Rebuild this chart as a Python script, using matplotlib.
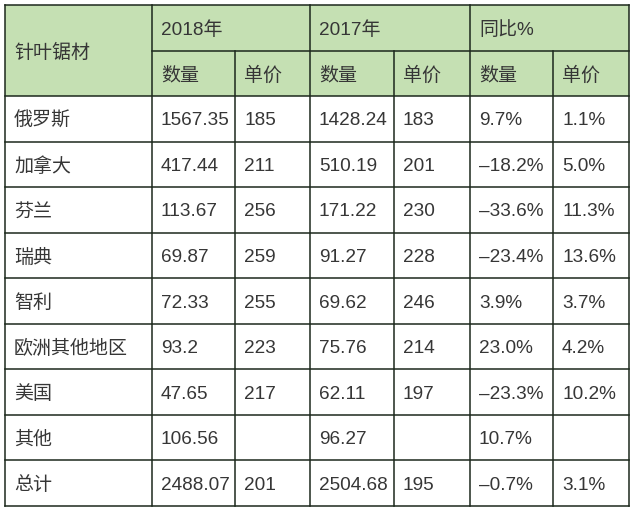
import matplotlib
matplotlib.use("Agg")
import matplotlib.pyplot as plt
from matplotlib.patches import Rectangle

plt.rcParams['font.family'] = ['Liberation Sans', 'Noto Sans CJK SC', 'DejaVu Sans']

# ---- data ----
corner_label = "针叶锯材"
year_headers = ["2018年", "2017年", "同比%"]
sub_headers = ["数量", "单价", "数量", "单价", "数量", "单价"]
regions = ["俄罗斯", "加拿大", "芬兰", "瑞典", "智利", "欧洲其他地区", "美国", "其他", "总计"]
qty_2018 = ["1567.35", "417.44", "113.67", "69.87", "72.33", "93.2", "47.65", "106.56", "2488.07"]
price_2018 = ["185", "211", "256", "259", "255", "223", "217", "", "201"]
qty_2017 = ["1428.24", "510.19", "171.22", "91.27", "69.62", "75.76", "62.11", "96.27", "2504.68"]
price_2017 = ["183", "201", "230", "228", "246", "214", "197", "", "195"]
qty_yoy = ["9.7%", "–18.2%", "–33.6%", "–23.4%", "3.9%", "23.0%", "–23.3%", "10.7%", "–0.7%"]
price_yoy = ["1.1%", "5.0%", "11.3%", "13.6%", "3.7%", "4.2%", "10.2%", "", "3.1%"]

# ---- layout ----
W, H = 636, 512
col_x = [5, 152, 235, 310, 394, 470, 553, 629]
head_top, head_mid, head_bot = 5, 51, 96
row_h = (506 - head_bot) / len(regions)
header_fill = "#c5e0b3"
line_color = "#1c281c"
text_color = "#363636"
fs = 13.7
pad = 9
lw = 1.1

fig = plt.figure(figsize=(W / 100, H / 100), dpi=100)
ax = fig.add_axes([0, 0, 1, 1])
ax.set_xlim(0, W)
ax.set_ylim(H, 0)
ax.axis('off')

# header background
ax.add_patch(Rectangle((col_x[0], head_top), col_x[-1] - col_x[0], head_bot - head_top,
                       facecolor=header_fill, edgecolor='none'))

def txt(x, y, s):
    ax.text(x + pad, y, s, ha='left', va='center_baseline', fontsize=fs, color=text_color)

# header text
txt(col_x[0], (head_top + head_bot) / 2, corner_label)
for i, h in enumerate(year_headers):
    txt(col_x[1 + 2 * i], (head_top + head_mid) / 2, h)
for i, h in enumerate(sub_headers):
    txt(col_x[1 + i], (head_mid + head_bot) / 2, h)

# body text
columns = [regions, qty_2018, price_2018, qty_2017, price_2017, qty_yoy, price_yoy]
for r in range(len(regions)):
    yc = head_bot + (r + 0.5) * row_h
    for c, col in enumerate(columns):
        if col[r]:
            txt(col_x[c], yc, col[r])

# grid lines
bottom = head_bot + len(regions) * row_h
ax.plot([col_x[0], col_x[-1]], [head_top, head_top], color=line_color, lw=lw)
ax.plot([col_x[1], col_x[-1]], [head_mid, head_mid], color=line_color, lw=lw)
for r in range(len(regions) + 1):
    y = head_bot + r * row_h
    ax.plot([col_x[0], col_x[-1]], [y, y], color=line_color, lw=lw)
for i, x in enumerate(col_x):
    top = head_top if i in (0, 1, 3, 5, 7) else head_mid
    ax.plot([x, x], [top, bottom], color=line_color, lw=lw)

fig.savefig("out.png", dpi=100, facecolor='white')
